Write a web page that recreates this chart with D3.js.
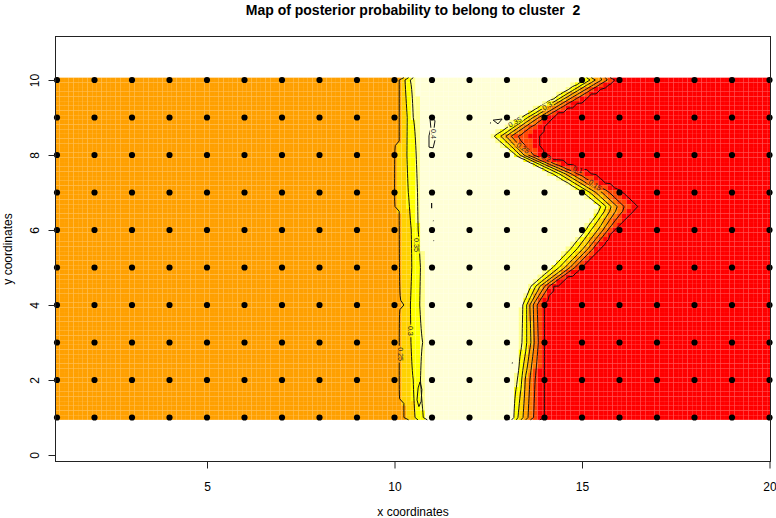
<!DOCTYPE html>
<html><head><meta charset="utf-8">
<script src="https://cdn.jsdelivr.net/npm/d3@7"></script>
<style>
body{margin:0;background:#fff}
svg{display:block}
text{font-family:"Liberation Sans",Arial,Helvetica,sans-serif}
</style>
</head><body>
<svg id="c" width="776" height="518"></svg>
<script>
// ---------------- data ----------------
const title = "Map of posterior probability to belong to cluster  2";
const xLabel = "x coordinates";
const yLabel = "y coordinates";
const xTicks = [5, 10, 15, 20];
const yTicks = [0, 2, 4, 6, 8, 10];
const siteX = [1,2,3,4,5,6,7,8,9,10,11,12,13,14,15,16,17,18,19,20];
const siteY = [1,2,3,4,5,6,7,8,9,10];

// posterior probability on the far left / far right of the map
const leftPlateau = 0.22;
const rightPlateau = 0.06;

// left transition: x where the probability reaches each level, per row
const leftLevels = [0.25, 0.30, 0.35, 0.38];
const leftY = [10, 9, 8, 7, 6, 5, 4, 3, 2, 1];
const leftKnots = [
  [10.17, 10.28, 10.39, 10.68],
  [10.17, 10.34, 10.50, 10.76],
  [10.10, 10.33, 10.57, 10.76],
  [10.06, 10.37, 10.61, 10.81],
  [10.19, 10.46, 10.63, 10.76],
  [10.23, 10.46, 10.70, 10.81],
  [10.25, 10.41, 10.68, 10.81],
  [10.19, 10.43, 10.75, 10.84],
  [10.15, 10.50, 10.68, 10.84],
  [10.31, 10.55, 10.77, 10.87]
];

// right transition: x where the probability drops to each level, per row
const rightLevels = [0.38, 0.35, 0.30, 0.25, 0.20, 0.15, 0.10];
const rightY = [10, 9.5, 9, 8.5, 8, 7.5, 7, 6.6, 6, 5.5, 5, 4.5, 4, 3, 2, 1];
const rightKnots = [
  [14.89, 15.08, 15.21, 15.35, 15.53, 15.67, 15.83],
  [14.07, 14.25, 14.39, 14.52, 14.68, 14.84, 15.05],
  [13.24, 13.40, 13.56, 13.69, 13.85, 13.99, 14.15],
  [12.49, 12.68, 12.84, 12.97, 13.11, 13.27, 13.83],
  [13.13, 13.24, 13.35, 13.45, 13.56, 13.69, 13.91],
  [14.07, 14.23, 14.39, 14.55, 14.71, 14.87, 15.21],
  [14.89, 15.05, 15.21, 15.37, 15.53, 15.72, 16.01],
  [15.40, 15.53, 15.67, 15.80, 15.96, 16.15, 16.44],
  [14.97, 15.11, 15.24, 15.43, 15.56, 15.69, 15.83],
  [14.57, 14.71, 14.87, 15.03, 15.16, 15.29, 15.43],
  [14.09, 14.23, 14.39, 14.55, 14.68, 14.81, 14.95],
  [13.56, 13.64, 13.77, 13.88, 14.01, 14.12, 14.23],
  [13.35, 13.43, 13.53, 13.61, 13.69, 13.80, 13.93],
  [13.32, 13.40, 13.53, 13.64, 13.72, 13.83, 13.96],
  [13.21, 13.27, 13.40, 13.48, 13.61, 13.75, 13.93],
  [13.13, 13.16, 13.29, 13.43, 13.56, 13.69, 13.93]
];

const contourLevels = [0.10, 0.15, 0.20, 0.25, 0.30, 0.35];
const colorBreaks = [0.12, 0.16, 0.205, 0.25, 0.295, 0.35, 0.37];
const colorList = ["#FF0000", "#FF4500", "#FF7A00", "#FFA000", "#FFD200", "#FFFF00", "#FFFF8C", "#FFFFD6"];

// small isolated contour pieces
const smallLoops = [
  [[11.0,9.01],[11.08,8.91],[11.05,8.67],[11.08,8.40],[11.03,8.19],[10.92,8.21],[10.92,8.51],[10.97,8.72],[10.95,8.93]],
  [[10.68,1.95],[10.73,1.75],[10.71,1.43],[10.65,1.29],[10.6,1.47],[10.63,1.79]],
  [[12.63,8.93],[12.87,8.96],[12.76,8.83]]
];
const smallDashes = [
  [[10.99,6.72],[10.99,6.58]],
  [[12.55,8.86],[12.57,8.85]],
  [[13.13,2.46],[13.15,2.45]],
  [[11.03,6.25],[11.04,6.24]],
  [[11.04,5.72],[11.05,5.71]]
];
const contourLabels = [
  {t:"0.25", x:10.17, y:2.69, a:90},
  {t:"0.3",  x:10.43, y:3.31, a:90},
  {t:"0.35", x:10.59, y:5.60, a:90},
  {t:"0.4",  x:11.03, y:8.56, a:90},
  {t:"0.35", x:13.21, y:8.88, a:-30},
  {t:"0.3",  x:14.07, y:9.31, a:-30},
  {t:"0.25", x:13.43, y:8.19, a:35},
  {t:"0.2",  x:14.04, y:7.92, a:25},
  {t:"0.1",  x:14.89, y:7.61, a:15},
  {t:"0.15", x:15.35, y:7.20, a:35}
];

// ---------------- drawing ----------------
const box = {l:55, r:771, t:36, b:462};
const x = d3.scaleLinear().domain([1, 20]).range([57, 769.5]);
const y = d3.scaleLinear().domain([0, 10]).range([455, 80]);
const svg = d3.select("#c");

function rowInterp(ys, knots, yy) {
  if (yy >= ys[0]) return knots[0];
  if (yy <= ys[ys.length-1]) return knots[knots.length-1];
  for (let i = 0; i < ys.length-1; i++) {
    if (yy <= ys[i] && yy >= ys[i+1]) {
      const t = (ys[i]-yy)/(ys[i]-ys[i+1]);
      return knots[i].map((k,j) => k + t*(knots[i+1][j]-k));
    }
  }
}
function fieldAt(xx, yy) {
  const L = rowInterp(leftY, leftKnots, yy);
  const R = rowInterp(rightY, rightKnots, yy);
  const pts = [[0, leftPlateau]];
  L.forEach((k,j) => pts.push([k, leftLevels[j]]));
  R.forEach((k,j) => pts.push([k, rightLevels[j]]));
  pts.push([21, rightPlateau]);
  for (let i = 0; i < pts.length-1; i++) {
    if (xx >= pts[i][0] && xx <= pts[i+1][0]) {
      const d = pts[i+1][0]-pts[i][0];
      const t = d > 0 ? (xx-pts[i][0])/d : 0;
      return pts[i][1] + t*(pts[i+1][1]-pts[i][1]);
    }
  }
  return rightPlateau;
}

const step = 0.125;
const nx = Math.round((siteX[siteX.length-1]-siteX[0])/step)+1;
const ny = Math.round((siteY[siteY.length-1]-siteY[0])/step)+1;
const x0 = siteX[0], yTop = siteY[siteY.length-1];
const values = new Array(nx*ny);
const cells = [];
for (let j = 0; j < ny; j++) for (let i = 0; i < nx; i++) {
  const v = fieldAt(x0 + i*step, yTop - j*step);
  values[j*nx+i] = v;
  cells.push({i, j, v});
}
const color = d3.scaleThreshold().domain(colorBreaks).range(colorList);

const defs = svg.append("defs");
defs.append("clipPath").attr("id","pc").append("rect")
  .attr("x", box.l).attr("y", box.t).attr("width", box.r-box.l).attr("height", box.b-box.t);
// mask that opens gaps in the contour lines where labels sit
const mask = defs.append("mask").attr("id","lm").attr("maskUnits","userSpaceOnUse")
  .attr("x",0).attr("y",0).attr("width",776).attr("height",518);
mask.append("rect").attr("x",0).attr("y",0).attr("width",776).attr("height",518).attr("fill","#fff");
mask.selectAll("rect.g").data(contourLabels).join("rect").attr("class","g")
  .attr("transform", d => `translate(${x(d.x)},${y(d.y)}) rotate(${d.a})`)
  .attr("x", d => -d.t.length*2.1).attr("y", -3.2)
  .attr("width", d => d.t.length*4.2).attr("height", 6.4).attr("fill","#000");

const gImg = svg.append("g").attr("clip-path","url(#pc)");
const cw = x(x0+step)-x(x0), ch = y(0)-y(step);
gImg.selectAll("rect.cell").data(cells).join("rect").attr("class","cell")
  .attr("x", d => x(x0 + d.i*step - step/2))
  .attr("y", d => y(yTop - d.j*step + step/2))
  .attr("width", cw).attr("height", ch)
  .attr("fill", d => color(d.v));

// contour lines
const contours = d3.contours().size([nx, ny]).thresholds(contourLevels)(values);
const gx2px = gx => x(x0 + (gx-0.5)*step);
const gy2px = gy => y(yTop - (gy-0.5)*step);
let pathD = "";
contours.forEach(c => c.coordinates.forEach(poly => poly.forEach(ring => {
  let pen = false;
  for (let k = 0; k < ring.length-1; k++) {
    const a = ring[k], b = ring[k+1];
    const onFrame = (a[0]===0&&b[0]===0)||(a[0]===nx&&b[0]===nx)||(a[1]===0&&b[1]===0)||(a[1]===ny&&b[1]===ny);
    if (onFrame) { pen = false; continue; }
    if (!pen) { pathD += `M${gx2px(a[0]).toFixed(2)},${gy2px(a[1]).toFixed(2)}`; pen = true; }
    pathD += `L${gx2px(b[0]).toFixed(2)},${gy2px(b[1]).toFixed(2)}`;
  }
})));
const gLines = gImg.append("g").attr("mask","url(#lm)");
gLines.append("path").attr("d", pathD).attr("fill","none").attr("stroke","#111").attr("stroke-width",1);

const loopLine = d3.line().x(d => x(d[0])).y(d => y(d[1])).curve(d3.curveLinearClosed);
const openLine = d3.line().x(d => x(d[0])).y(d => y(d[1]));
gLines.selectAll("path.loop").data(smallLoops).join("path").attr("class","loop")
  .attr("d", loopLine).attr("fill","none").attr("stroke","#111").attr("stroke-width",1);
gLines.selectAll("path.dash").data(smallDashes).join("path").attr("class","dash")
  .attr("d", openLine).attr("fill","none").attr("stroke","#111").attr("stroke-width",1.2);

gImg.selectAll("text.cl").data(contourLabels).join("text").attr("class","cl")
  .attr("transform", d => `translate(${x(d.x)},${y(d.y)}) rotate(${d.a})`)
  .attr("text-anchor","middle").attr("dy","0.35em")
  .attr("font-size", 7.2).attr("fill","#222").text(d => d.t);

// sites
const sites = [];
siteY.forEach(sy => siteX.forEach(sx => sites.push([sx, sy])));
svg.append("g").selectAll("circle").data(sites).join("circle")
  .attr("cx", d => x(d[0])).attr("cy", d => y(d[1])).attr("r", 3.1).attr("fill","#000");

// frame
svg.append("rect").attr("x", box.l+0.5).attr("y", box.t+0.5)
  .attr("width", box.r-box.l-1).attr("height", box.b-box.t-1)
  .attr("fill","none").attr("stroke","#222").attr("stroke-width",1);

// axes
const ax = svg.append("g").attr("transform", `translate(0,${box.b-0.5})`)
  .call(d3.axisBottom(x).tickValues(xTicks).tickSize(7).tickFormat(d3.format("d")));
ax.select(".domain").remove();
ax.selectAll("line").attr("stroke","#222");
ax.selectAll("text").attr("y", 29).attr("dy", null).attr("font-size", 12).attr("fill","#000")
  .attr("font-family","Liberation Sans, Arial, sans-serif");

const ay = svg.append("g").attr("transform", `translate(${box.l+0.5},0)`)
  .call(d3.axisLeft(y).tickValues(yTicks).tickSize(7).tickFormat(d3.format("d")));
ay.select(".domain").remove();
ay.selectAll("line").attr("stroke","#222");
ay.selectAll("text").attr("x", null).attr("dy", null).attr("text-anchor","middle")
  .attr("transform","translate(-17,0) rotate(-90)").attr("font-size", 12).attr("fill","#000")
  .attr("font-family","Liberation Sans, Arial, sans-serif");

// titles
svg.append("text").attr("x", (box.l+box.r)/2).attr("y", 15).attr("text-anchor","middle")
  .attr("font-size", 14).attr("font-weight","bold").style("white-space","pre").text(title);
svg.append("text").attr("x", (box.l+box.r)/2).attr("y", 516).attr("text-anchor","middle")
  .attr("font-size", 12).text(xLabel);
svg.append("text").attr("transform", `translate(12,${(box.t+box.b)/2}) rotate(-90)`)
  .attr("text-anchor","middle").attr("font-size", 12).text(yLabel);
</script>
</body></html>
